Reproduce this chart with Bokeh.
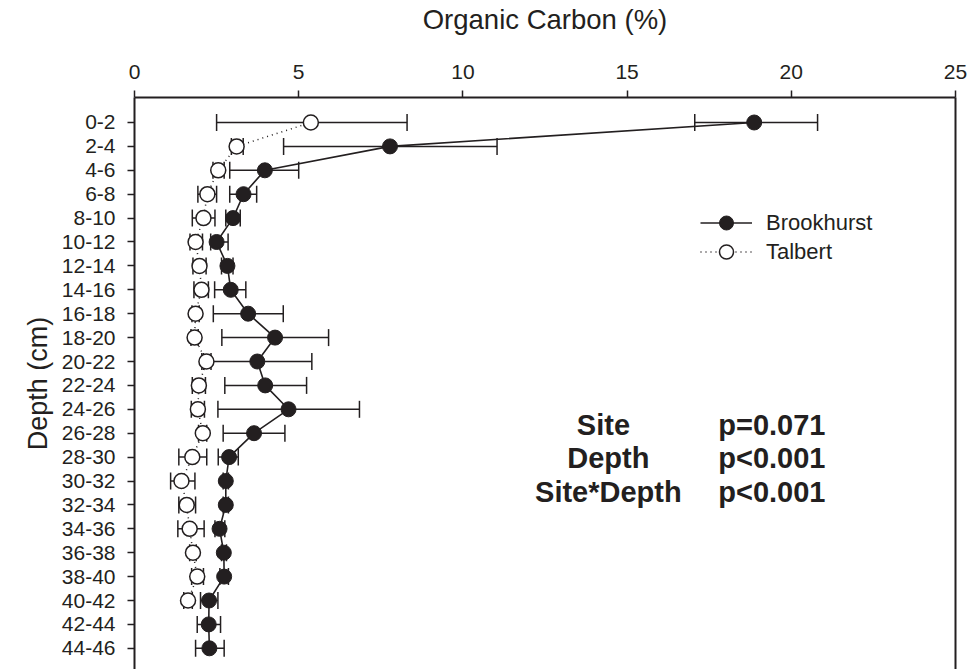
from bokeh.plotting import figure
from bokeh.models import (Range1d, FixedTicker, LinearAxis, Whisker, TeeHead,
                          ColumnDataSource, Legend, LegendItem, Label)
from bokeh.embed import file_html
from bokeh.resources import INLINE

# ---------------- data ----------------
depth_labels = ["0-2", "2-4", "4-6", "6-8", "8-10", "10-12", "12-14", "14-16",
                "16-18", "18-20", "20-22", "22-24", "24-26", "26-28", "28-30",
                "30-32", "32-34", "34-36", "36-38", "38-40", "40-42", "42-44", "44-46"]

brook_mean = [18.87, 7.78, 3.97, 3.32, 3.00, 2.50, 2.83, 2.93, 3.46, 4.28, 3.74, 3.98,
              4.69, 3.64, 2.88, 2.78, 2.78, 2.59, 2.72, 2.73, 2.27, 2.26, 2.28]
brook_lower = [17.06, 4.54, 2.90, 2.90, 2.78, 2.32, 2.65, 2.44, 2.40, 2.66, 2.10, 2.75,
               2.54, 2.70, 2.55, 2.70, 2.70, 2.45, 2.65, 2.60, 2.01, 1.91, 1.86]
brook_upper = [20.80, 11.04, 5.00, 3.72, 3.22, 2.85, 3.00, 3.39, 4.53, 5.91, 5.40, 5.24,
               6.85, 4.58, 3.16, 2.86, 2.86, 2.75, 2.80, 2.86, 2.54, 2.62, 2.73]

tal_mean = [5.37, 3.11, 2.55, 2.22, 2.10, 1.86, 1.98, 2.04, 1.86, 1.83, 2.19, 1.96,
            1.93, 2.08, 1.76, 1.43, 1.59, 1.68, 1.78, 1.91, 1.63]
tal_lower = [2.50, 2.95, 2.39, 1.93, 1.76, 1.69, 1.78, 1.81, 1.75, 1.72, 2.05, 1.76,
             1.73, 1.95, 1.35, 1.10, 1.35, 1.32, 1.68, 1.74, 1.50]
tal_upper = [8.30, 3.31, 2.73, 2.50, 2.45, 2.07, 2.18, 2.25, 1.97, 1.94, 2.33, 2.16,
             2.13, 2.20, 2.20, 1.84, 1.86, 2.12, 1.88, 2.10, 1.76]

x_ticks = [0, 5, 10, 15, 20, 25]

stats_terms = ["Site", "Depth", "Site*Depth"]
stats_p = ["p=0.071", "p<0.001", "p<0.001"]

# ---------------- figure ----------------
INK = "#231f20"
FONT = "Liberation Sans"

brook = ColumnDataSource(dict(y=list(range(len(brook_mean))), x=brook_mean,
                              lo=brook_lower, hi=brook_upper))
tal = ColumnDataSource(dict(y=list(range(len(tal_mean))), x=tal_mean,
                            lo=tal_lower, hi=tal_upper))

p = figure(width=972, height=669, output_backend="svg", toolbar_location=None,
           x_axis_location="above",
           x_range=Range1d(0, 25), y_range=Range1d(22.887, -1.046),
           min_border_left=134, min_border_top=97, min_border_right=17,
           min_border_bottom=0)
p.outline_line_color = None
p.xgrid.visible = False
p.ygrid.visible = False
p.background_fill_color = "white"

# x axis (top)
xa = p.xaxis[0]
xa.ticker = FixedTicker(ticks=x_ticks)
xa.axis_label = "Organic Carbon (%)"
xa.axis_label_text_font = FONT
xa.axis_label_text_font_size = "27.5px"
xa.axis_label_text_font_style = "normal"
xa.axis_label_text_color = INK
xa.axis_label_standoff = 27
xa.major_label_text_font = FONT
xa.major_label_text_font_size = "21px"
xa.major_label_text_color = INK
xa.major_label_standoff = 12
xa.axis_line_width = 2
xa.axis_line_color = INK
xa.major_tick_line_width = 1.5
xa.major_tick_line_color = INK
xa.major_tick_out = 7
xa.major_tick_in = 0
xa.minor_tick_line_color = None

# y axis (left)
ya = p.yaxis[0]
ya.ticker = FixedTicker(ticks=list(range(len(depth_labels))))
ya.major_label_overrides = {i: lab for i, lab in enumerate(depth_labels)}
ya.axis_label = "Depth (cm)"
ya.axis_label_text_font = FONT
ya.axis_label_text_font_size = "27px"
ya.axis_label_text_font_style = "normal"
ya.axis_label_text_color = INK
ya.axis_label_standoff = 6
ya.major_label_text_font = FONT
ya.major_label_text_font_size = "21px"
ya.major_label_text_color = INK
ya.major_label_standoff = 12
ya.axis_line_width = 2
ya.axis_line_color = INK
ya.major_tick_line_width = 1.5
ya.major_tick_line_color = INK
ya.major_tick_out = 7
ya.major_tick_in = 0
ya.minor_tick_line_color = None

# right border
ra = LinearAxis(ticker=FixedTicker(ticks=[]), major_label_text_font_size="0px",
                axis_line_width=2, axis_line_color=INK, major_tick_line_color=None,
                minor_tick_line_color=None)
p.add_layout(ra, "right")

# error bars
for src in (tal, brook):
    w = Whisker(source=src, base="y", lower="lo", upper="hi", dimension="width",
                line_color=INK, line_width=1.5,
                lower_head=TeeHead(size=17, line_color=INK, line_width=1.5),
                upper_head=TeeHead(size=17, line_color=INK, line_width=1.5))
    p.add_layout(w)

# lines and markers
t_line = p.line("x", "y", source=tal, line_color=INK, line_width=1.5, line_dash="1 4")
b_line = p.line("x", "y", source=brook, line_color=INK, line_width=1.6)
t_pts = p.scatter("x", "y", source=tal, size=15, marker="circle",
                  fill_color="white", line_color=INK, line_width=1.5)
b_pts = p.scatter("x", "y", source=brook, size=15, marker="circle",
                  fill_color=INK, line_color=INK, line_width=1)

legend_style = dict(glyph_width=52, glyph_height=35, label_standoff=14, padding=0,
                    margin=0, spacing=0, border_line_color=None,
                    background_fill_alpha=0, label_text_font=FONT,
                    label_text_font_size="22px", label_text_color=INK)
leg_b = Legend(items=[LegendItem(label="Brookhurst", renderers=[b_line, b_pts])],
               location=(566, 429), **legend_style)
leg_t = Legend(items=[LegendItem(label="Talbert", renderers=[t_line, t_pts])],
               location=(566, 400), **legend_style)
p.add_layout(leg_b)
p.add_layout(leg_t)

# statistics text
term_x = [14.28, 14.43, 14.43]
p_x = 21.04
row_y = [12.64, 14.04, 15.44]
for term, pv, tx, ry in zip(stats_terms, stats_p, term_x, row_y):
    p.add_layout(Label(x=tx, y=ry, text=term, text_font=FONT, text_font_size="29px",
                       text_font_style="bold", text_color=INK, text_align="center",
                       text_baseline="middle"))
    p.add_layout(Label(x=p_x, y=ry, text=pv, text_font=FONT, text_font_size="29px",
                       text_font_style="bold", text_color=INK, text_align="right",
                       text_baseline="middle"))

open("out.html", "w").write(file_html(p, INLINE))
